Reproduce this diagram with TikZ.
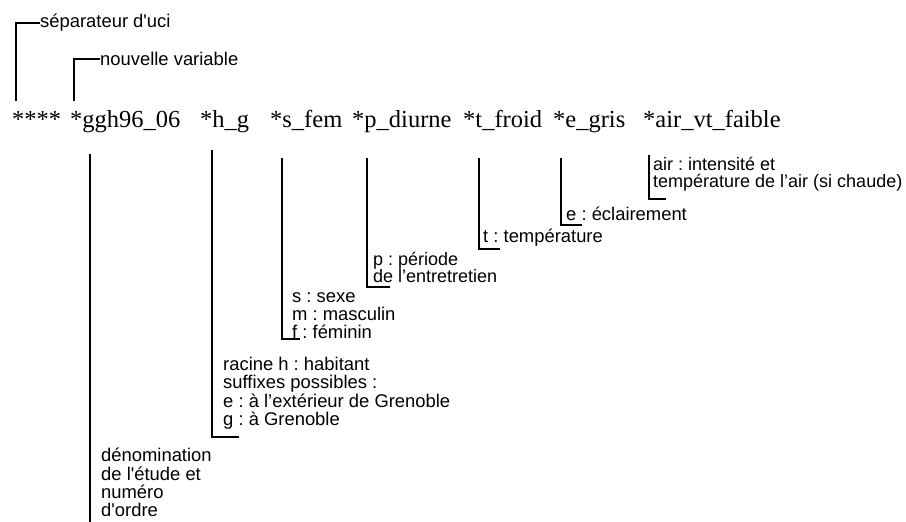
\documentclass[tikz,border=0pt]{standalone}
\usepackage{fontspec}
\setmainfont{Liberation Serif}
\newfontfamily\notefont{Liberation Sans}
\usetikzlibrary{positioning}
\frenchspacing

\begin{document}
\begin{tikzpicture}[x=1pt, y=-1pt,
  word/.style = {anchor=base west, inner sep=0pt,
    font=\fontsize{24.5}{26}\selectfont},
  note/.style = {anchor=north west, inner sep=0pt, align=left,
    font=\notefont\fontsize{18.4}{18.3}\selectfont},
  tight/.style = {font=\notefont\fontsize{18}{17}\selectfont},
  bracket/.style = {line width=1.8pt}]
  \useasboundingbox (0,0) rectangle (906,522);
  % la ligne etoilee
  \node[word] (w0) at (12,127) {****};
  \node[word] (w1) at (70,127) {*ggh96\_06};
  \node[word] (w2) at (200,127) {*h\_g};
  \node[word] (w3) at (270,127) {*s\_fem};
  \node[word] (w4) at (352,127) {*p\_diurne};
  \node[word] (w5) at (463,127) {*t\_froid};
  \node[word] (w6) at (553,127) {*e\_gris};
  \node[word] (w7) at (643,127) {*air\_vt\_faible};
  % au-dessus
  \node[note, anchor=west] (sep) at (40,23) {séparateur d'uci};
  \node[note, anchor=west] (var) at (100,59) {nouvelle variable};
  \coordinate (sep-foot) at (16,101);
  \coordinate (var-foot) at (74,101);
  \draw[bracket] (sep-foot) |- (sep.west);
  \draw[bracket] (var-foot) |- (var.west);
  % au-dessous
  \node[note] (ggh) at (101,448) {dénomination\\de l'étude et\\numéro\\d'ordre};
  \node[note] (hab) at (223,357) {racine h : habitant\\suffixes possibles :\\e : à l’extérieur de Grenoble\\g : à Grenoble};
  \node[note] (sexe) at (292,292) {s : sexe\\m : masculin\\f : féminin};
  \node[note, tight] (per) at (373,252) {p : période\\de l’entretretien};
  \node[note] (temp) at (483,229) {t : température};
  \node[note] (ecl) at (566,207) {e : éclairement};
  \node[note, tight] (air) at (653,157) {air : intensité et\\température de l’air (si chaude)};
  \coordinate (ggh-top) at (90,154);  \coordinate (ggh-foot) at (90,522);
  \coordinate (hab-top) at (212,150); \coordinate (hab-foot) at (239,437);
  \coordinate (sexe-top) at (282,158); \coordinate (sexe-foot) at (300,339);
  \coordinate (per-top) at (367,158); \coordinate (per-foot) at (390,287);
  \coordinate (temp-top) at (479,158); \coordinate (temp-foot) at (500,249);
  \coordinate (ecl-top) at (561,158); \coordinate (ecl-foot) at (582,225);
  \coordinate (air-top) at (649,155); \coordinate (air-foot) at (666,199);
  \draw[bracket] (ggh-top) -- (ggh-foot);
  \foreach \n in {hab,sexe,per,temp,ecl,air}
    \draw[bracket] (\n-top) |- (\n-foot);
\end{tikzpicture}
\end{document}
